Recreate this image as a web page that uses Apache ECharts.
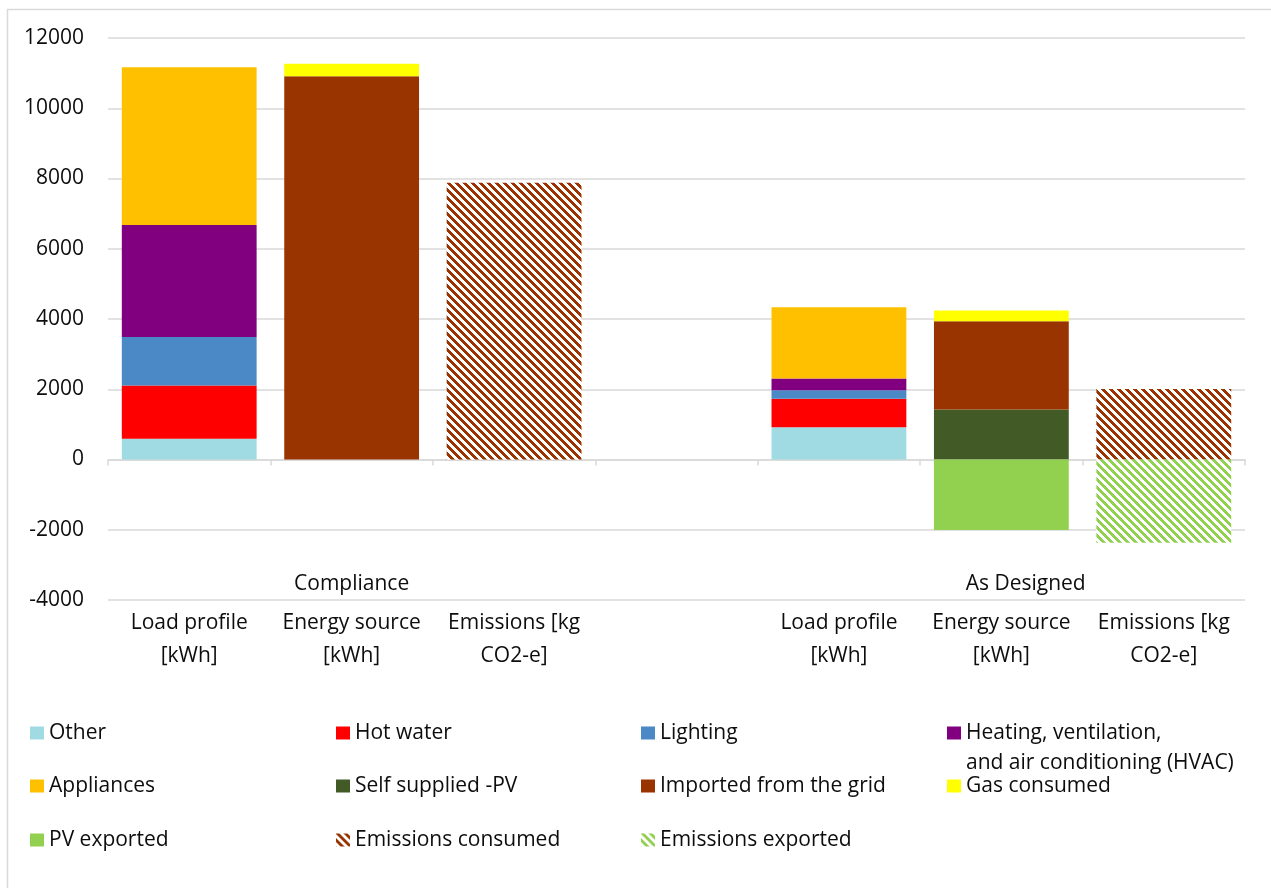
<!DOCTYPE html>
<html>
<head>
<meta charset="utf-8">
<script src="https://cdn.jsdelivr.net/npm/echarts@6/dist/echarts.min.js"></script>
<style>
  html, body { margin: 0; padding: 0; background: #fff; }
  #chart { width: 1271px; height: 888px; }
</style>
</head>
<body>
<div id="chart"></div>
<script>
// Category axis: two scenarios, three columns each, with an empty spacer slot between them
const categories = [
  'Load profile\n[kWh]', 'Energy source\n[kWh]', 'Emissions [kg\nCO2-e]', '',
  'Load profile\n[kWh]', 'Energy source\n[kWh]', 'Emissions [kg\nCO2-e]'
];
const groupLabels = ['Compliance', 'As Designed'];
const yMin = -4000, yMax = 12000, yStep = 2000;

// Stacked components (kWh or kg CO2-e), one slot per category
const other             = [590,  null,  null, null, 920,  null,  null];
const hotWater          = [1520, null,  null, null, 810,  null,  null];
const lighting          = [1375, null,  null, null, 245,  null,  null];
const hvac              = [3190, null,  null, null, 330,  null,  null];
const appliances        = [4490, null,  null, null, 2030, null,  null];
const selfSuppliedPV    = [null, null,  null, null, null, 1420,  null];
const importedFromGrid  = [null, 10910, null, null, null, 2515,  null];
const gasConsumed       = [null, 360,   null, null, null, 305,   null];
const pvExported        = [null, null,  null, null, null, -2010, null];
const emissionsConsumed = [null, null,  7880, null, null, null,  2010];
const emissionsExported = [null, null,  null, null, null, null,  -2370];

const FONT = '"Open Sans", "Noto Sans", sans-serif';
const FONT_SIZE = 21;
const TEXT = '#0d0d0d';
const GRID_LINE = '#d9d9d9';

// Wide downward-diagonal hatch used for the emission bars
function hatch(color) {
  const c = document.createElement('canvas');
  c.width = 8; c.height = 8;
  const g = c.getContext('2d');
  g.fillStyle = '#ffffff';
  g.fillRect(0, 0, 8, 8);
  g.fillStyle = color;
  for (let y = 0; y < 8; y++) {
    for (let x = 0; x < 8; x++) {
      if ((((x - y) % 8) + 8) % 8 < 4) g.fillRect(x, y, 1, 1);
    }
  }
  return { image: c, repeat: 'repeat' };
}

const seriesDefs = [
  { name: 'Other', data: other, color: '#a0dbe3' },
  { name: 'Hot water', data: hotWater, color: '#ff0000' },
  { name: 'Lighting', data: lighting, color: '#4a88c6' },
  { name: 'Heating, ventilation, and air conditioning (HVAC)', data: hvac, color: '#800080' },
  { name: 'Appliances', data: appliances, color: '#ffc000' },
  { name: 'Self supplied -PV', data: selfSuppliedPV, color: '#425a26' },
  { name: 'Imported from the grid', data: importedFromGrid, color: '#993300' },
  { name: 'Gas consumed', data: gasConsumed, color: '#ffff00' },
  { name: 'PV exported', data: pvExported, color: '#92d050' },
  { name: 'Emissions consumed', data: emissionsConsumed, color: hatch('#993300') },
  { name: 'Emissions exported', data: emissionsExported, color: hatch('#92d050') }
];

const series = seriesDefs.map(s => ({
  name: s.name,
  type: 'bar',
  stack: 'total',
  xAxisIndex: 0,
  data: s.data,
  barCategoryGap: '17%',
  itemStyle: { color: s.color },
  emphasis: { disabled: true }
}));

// Legend laid out as a 4-column table
const legendCols = [30, 336, 641, 947];
const legendRows = [732, 785, 839];
const HVAC_NAME = seriesDefs[3].name;
const hvacLines = ['Heating, ventilation,', 'and air conditioning (HVAC)'];

const legends = seriesDefs.map((s, i) => ({
  data: [s.name],
  left: legendCols[i % 4],
  top: legendRows[Math.floor(i / 4)] - 11,
  orient: 'horizontal',
  padding: 0,
  itemWidth: 14,
  itemHeight: 13,
  icon: 'rect',
  selectedMode: false,
  formatter: name => (name === HVAC_NAME ? hvacLines[0] : name),
  textStyle: { fontFamily: FONT, fontSize: FONT_SIZE, color: TEXT, lineHeight: 24 }
}));

const chart = echarts.init(document.getElementById('chart'), null, { renderer: 'canvas' });

chart.setOption({
  animation: false,
  backgroundColor: '#ffffff',
  textStyle: { fontFamily: FONT },
  grid: { left: 108, right: 26, top: 38, bottom: 288, containLabel: false },
  legend: legends,
  xAxis: [
    {
      type: 'category',
      data: categories,
      axisLine: { onZero: true, lineStyle: { color: GRID_LINE, width: 1.5 } },
      axisTick: { show: true, length: 6, lineStyle: { color: GRID_LINE, width: 1.5 } },
      axisLabel: { show: false },
      splitLine: { show: false }
    },
    {
      type: 'category',
      data: categories,
      position: 'bottom',
      axisLine: { show: false, onZero: false },
      axisTick: { show: false },
      axisLabel: {
        show: true,
        interval: 0,
        margin: 7,
        fontFamily: FONT,
        fontSize: FONT_SIZE,
        lineHeight: 33,
        color: TEXT,
        align: 'center',
        verticalAlign: 'top'
      },
      splitLine: { show: false }
    }
  ],
  yAxis: {
    type: 'value',
    min: yMin,
    max: yMax,
    interval: yStep,
    axisLine: { show: false },
    axisTick: { show: false },
    axisLabel: {
      fontFamily: FONT, fontSize: FONT_SIZE, color: TEXT, margin: 24,
      formatter: v => String(v)
    },
    splitLine: { lineStyle: { color: GRID_LINE, width: 1.5 } }
  },
  series: series
});

// Scenario group captions, frame and the wrapped HVAC legend line
function layoutGraphics() {
  const px = i => chart.convertToPixel({ xAxisIndex: 0 }, i);
  const catW = px(1) - px(0);
  const groupX = [(px(0) + px(2)) / 2, px(5) + 0.15 * catW];
  const graphics = [
    {
      id: 'frame', type: 'rect', silent: true, z: -1,
      shape: { x: 7.5, y: 9.5, width: 1400, height: 1000 },
      style: { fill: null, stroke: GRID_LINE, lineWidth: 1.5 }
    },
    {
      id: 'hvac2', type: 'text', silent: true,
      x: legendCols[3] + 19, y: 763,
      style: { text: hvacLines[1], fontFamily: FONT, fontSize: FONT_SIZE, fill: TEXT, verticalAlign: 'middle', align: 'left' }
    }
  ];
  groupLabels.forEach((g, i) => {
    graphics.push({
      id: 'group' + i, type: 'text', silent: true,
      x: groupX[i], y: 584,
      style: { text: g, fontFamily: FONT, fontSize: FONT_SIZE, fill: TEXT, align: 'center', verticalAlign: 'middle' }
    });
  });
  chart.setOption({ graphic: graphics });
}
layoutGraphics();
</script>
</body>
</html>
